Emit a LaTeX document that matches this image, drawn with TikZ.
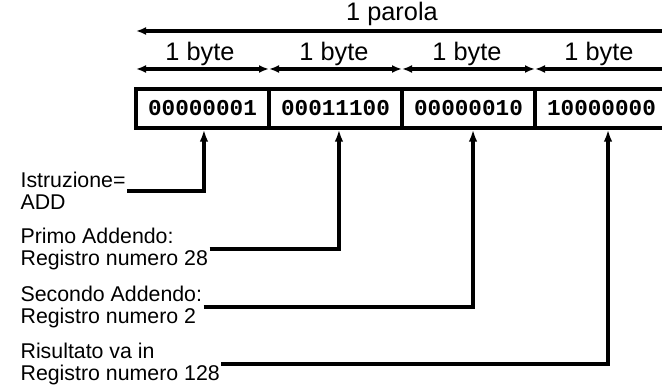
\documentclass[tikz,border=0pt]{standalone}
\usepackage{fontspec}
\setmainfont{Liberation Sans}
\newfontfamily\cellfont{Liberation Mono}
\usetikzlibrary{arrows.meta}
\begin{document}
\begin{tikzpicture}[x=0.75pt,y=-0.75pt,
  cell/.style={draw,line width=2.6pt,minimum width=99.75pt,minimum height=29.25pt,inner sep=0pt,
    font=\cellfont\bfseries\fontsize{17}{17}\selectfont},
  dim/.style={line width=2.6pt,{Latex[length=7.5pt,width=6pt]}-{Latex[length=7.5pt,width=6pt]}},
  conn/.style={line width=2.6pt,-{Latex[length=9pt,width=6.5pt]}},
  toplab/.style={font=\fontsize{19}{19}\selectfont,inner sep=0pt},
  lab/.style={font=\fontsize{16}{16.5}\selectfont,align=left,inner sep=1pt,anchor=west}]
\useasboundingbox (0,0) rectangle (662,388);
\clip (0,0) rectangle (662,388);
% cells
\node[cell] (c1) at (202.5,108.5) {00000001};
\node[cell] (c2) at (335.5,108.5) {00011100};
\node[cell] (c3) at (468.5,108.5) {00000010};
\node[cell] (c4) at (601.5,108.5) {10000000};
% dimension arrows
\coordinate (b0) at (136,69);
\coordinate (b1) at (269,69);
\coordinate (b2) at (402,69);
\coordinate (b3) at (535,69);
\coordinate (b4) at (682,69);
\draw[dim] (b0) -- (b1);
\draw[dim] (b1) -- (b2);
\draw[dim] (b2) -- (b3);
\draw[dim] (b3) -- (b4);
\node[toplab] (y1) at (200,54) {1 byte};
\node[toplab] (y2) at (334,54) {1 byte};
\node[toplab] (y3) at (467,54) {1 byte};
\node[toplab] (y4) at (599,54) {1 byte};
\coordinate (p0) at (136,31);
\coordinate (p1) at (682,31);
\draw[dim] (p0) -- (p1);
\node[toplab] (par) at (392,14) {1 parola};
% labels
\node[lab] (l1) at (19,191) {Istruzione=\\ADD};
\node[lab] (l2) at (19,249) {Primo Addendo:\\Registro numero 28};
\node[lab] (l3) at (19,307) {Secondo Addendo:\\Registro numero 2};
\node[lab] (l4) at (19,364) {Risultato va in\\Registro numero 128};
\draw[conn] (l1.east) -| ([xshift=1.1pt]c1.south);
\draw[conn] (l2.east) -| ([xshift=2.6pt]c2.south);
\draw[conn] (l3.east) -| ([xshift=3.4pt]c3.south);
\draw[conn] (l4.east) -| ([xshift=4.9pt]c4.south);
\end{tikzpicture}
\end{document}
